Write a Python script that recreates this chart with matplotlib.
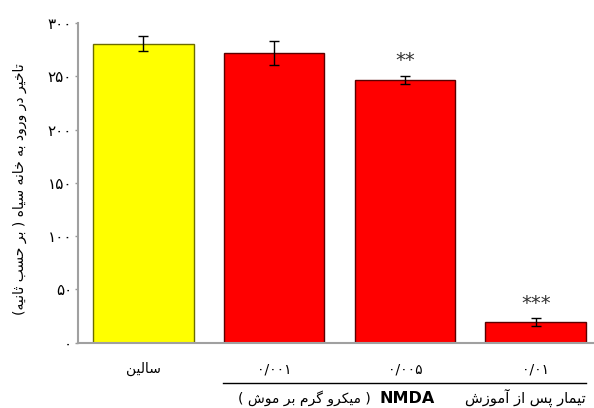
import matplotlib
matplotlib.use("Agg")
import matplotlib.pyplot as plt
from matplotlib.offsetbox import TextArea, HPacker, AnnotationBbox

# ---- data -----------------------------------------------------------------
categories = ["سالین", "۰/۰۰۱", "۰/۰۰۵", "۰/۰۱"]
latency = [280.6, 272.1, 246.5, 19.4]
sem = [7.0, 11.3, 3.9, 3.4]
significance = ["", "", "**", "***"]
bar_colors = ["#FFFF00", "#FF0000", "#FF0000", "#FF0000"]
edge_colors = ["#6b6b00", "#5a0000", "#5a0000", "#5a0000"]
y_ticks = [0, 50, 100, 150, 200, 250, 300]
y_tick_labels = ["۰", "۵۰", "۱۰۰", "۱۵۰", "۲۰۰", "۲۵۰", "۳۰۰"]
y_label = "تاخیر در ورود به خانه سیاه ( بر حسب ثانیه)"
x_label_persian = "تیمار پس از آموزش"
x_label_drug = "NMDA"
x_label_unit = "( میکرو گرم بر موش )"

# ---- minimal Persian shaping (presentation forms) ---------------------------
# letter: (isolated, final, initial, medial); right-joining letters have 2 forms
FORMS = {
    "ا": ("\uFE8D", "\uFE8E"), "آ": ("\uFE81", "\uFE82"),
    "د": ("\uFEA9", "\uFEAA"), "ر": ("\uFEAD", "\uFEAE"),
    "ز": ("\uFEAF", "\uFEB0"), "و": ("\uFEED", "\uFEEE"),
    "ب": ("\uFE8F", "\uFE90", "\uFE91", "\uFE92"),
    "پ": ("\uFB56", "\uFB57", "\uFB58", "\uFB59"),
    "ت": ("\uFE95", "\uFE96", "\uFE97", "\uFE98"),
    "ث": ("\uFE99", "\uFE9A", "\uFE9B", "\uFE9C"),
    "ح": ("\uFEA1", "\uFEA2", "\uFEA3", "\uFEA4"),
    "خ": ("\uFEA5", "\uFEA6", "\uFEA7", "\uFEA8"),
    "س": ("\uFEB1", "\uFEB2", "\uFEB3", "\uFEB4"),
    "ش": ("\uFEB5", "\uFEB6", "\uFEB7", "\uFEB8"),
    "ک": ("\uFB8E", "\uFB8F", "\uFB90", "\uFB91"),
    "گ": ("\uFB92", "\uFB93", "\uFB94", "\uFB95"),
    "ل": ("\uFEDD", "\uFEDE", "\uFEDF", "\uFEE0"),
    "م": ("\uFEE1", "\uFEE2", "\uFEE3", "\uFEE4"),
    "ن": ("\uFEE5", "\uFEE6", "\uFEE7", "\uFEE8"),
    "ه": ("\uFEE9", "\uFEEA", "\uFEEB", "\uFEEC"),
    "ی": ("\uFBFC", "\uFBFD", "\uFBFE", "\uFBFF"),
}
MIRROR = {"(": ")", ")": "("}


def rtl(text):
    """Shape Persian text and return it in visual (left-to-right) order."""
    out = []
    n = len(text)
    for i, ch in enumerate(text):
        if ch not in FORMS:
            out.append(MIRROR.get(ch, ch))
            continue
        forms = FORMS[ch]
        prev = text[i - 1] if i > 0 else ""
        nxt = text[i + 1] if i + 1 < n else ""
        join_prev = prev in FORMS and len(FORMS[prev]) == 4
        join_next = len(forms) == 4 and nxt in FORMS
        if join_prev and join_next:
            out.append(forms[3])
        elif join_prev:
            out.append(forms[1])
        elif join_next:
            out.append(forms[2])
        else:
            out.append(forms[0])
    return "".join(reversed(out))


plt.rcParams["font.family"] = ["DejaVu Sans"]

fig = plt.figure(figsize=(5.94, 4.08), dpi=100)
ax = fig.add_axes([0.1308, 0.16, 0.8675, 0.7836])

x = list(range(len(categories)))
ax.bar(x, latency, width=0.77, color=bar_colors, edgecolor=edge_colors,
       linewidth=1.0, zorder=2)
ax.errorbar(x, latency, yerr=sem, fmt="none", ecolor="black", elinewidth=1.0,
            capsize=3.5, capthick=1.0, zorder=3)

for xi, v, e, s in zip(x, latency, sem, significance):
    if s:
        ax.text(xi, v + e + 14, s, ha="center", va="center", fontsize=14,
                color="#333333")

ax.set_xlim(-0.5, 3.437)
ax.set_ylim(0, 300)

ax.set_yticks(y_ticks)
ax.set_yticklabels(y_tick_labels, fontsize=11)
ax.set_xticks(x)
ax.set_xticklabels([rtl(categories[0])] + categories[1:], fontsize=10)
ax.tick_params(axis="x", length=0, pad=14)
ax.tick_params(axis="y", length=2, width=1, color="#999999", pad=2)

for side in ("top", "right"):
    ax.spines[side].set_visible(False)
for side in ("left", "bottom"):
    ax.spines[side].set_color("#a0a0a0")
    ax.spines[side].set_linewidth(1.5)

# y-axis title
fig.text(20 / 594, 1 - 189 / 408, rtl(y_label), rotation=90, ha="center",
         va="center", fontsize=10)

# group bracket under the NMDA doses
fig.add_artist(plt.Line2D([223 / 594, 586 / 594], [1 - 382.5 / 408] * 2,
                          color="black", linewidth=1.0))

left_part = HPacker(children=[
    TextArea(rtl(x_label_unit), textprops=dict(fontsize=10)),
    TextArea(x_label_drug, textprops=dict(fontsize=11.5, fontweight="bold")),
], align="baseline", pad=0, sep=6)
parts = HPacker(children=[
    left_part,
    TextArea(rtl(x_label_persian), textprops=dict(fontsize=10.5)),
], align="baseline", pad=0, sep=22)
fig.add_artist(AnnotationBbox(parts, (586 / 594, 1 - 398 / 408),
                              xycoords="figure fraction", box_alignment=(1, 0.5),
                              frameon=False, pad=0))

fig.savefig("out.png", dpi=100)
